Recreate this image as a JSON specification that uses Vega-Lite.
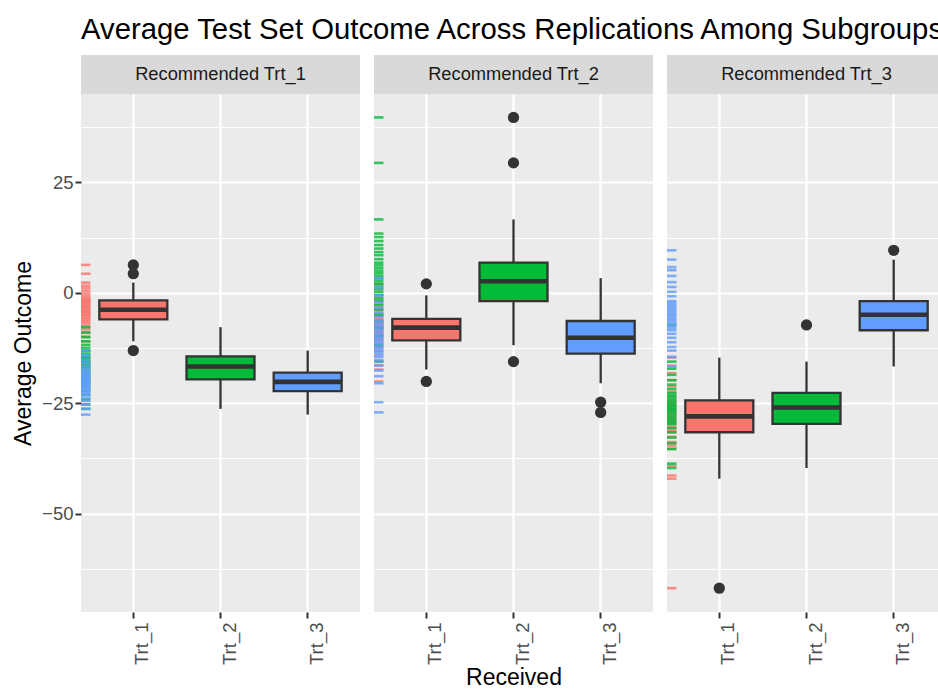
{
  "$schema": "https://vega.github.io/schema/vega-lite/v6.json",
  "background": "white",
  "padding": {"left": 12, "top": 15, "right": 0, "bottom": 0},
  "title": {"text": "Average Test Set Outcome Across Replications Among Subgroups", "anchor": "start", "frame": "group", "fontSize": 29.3, "fontWeight": "normal", "color": "#000000", "offset": 10},
  "config": {"font": "Liberation Sans", "view": {"stroke": null}},
  "spacing": 12,
  "datasets": {
    "strips": [
      {"p": "Trt_1", "label": "Recommended Trt_1"},
      {"p": "Trt_2", "label": "Recommended Trt_2"},
      {"p": "Trt_3", "label": "Recommended Trt_3"}
    ],
    "boxes": [
      {"p": "Trt_1", "r": "Trt_1", "lower": -11.0, "q1": -6.05, "median": -3.85, "q3": -1.75, "upper": 2.3},
      {"p": "Trt_1", "r": "Trt_2", "lower": -26.3, "q1": -19.6, "median": -16.7, "q3": -14.4, "upper": -7.8},
      {"p": "Trt_1", "r": "Trt_3", "lower": -27.6, "q1": -22.3, "median": -20.2, "q3": -18.1, "upper": -13.1},
      {"p": "Trt_2", "r": "Trt_1", "lower": -17.4, "q1": -10.8, "median": -7.9, "q3": -5.9, "upper": -0.6},
      {"p": "Trt_2", "r": "Trt_2", "lower": -11.9, "q1": -1.9, "median": 2.6, "q3": 6.8, "upper": 16.6},
      {"p": "Trt_2", "r": "Trt_3", "lower": -20.5, "q1": -13.8, "median": -10.2, "q3": -6.4, "upper": 3.3},
      {"p": "Trt_3", "r": "Trt_1", "lower": -42.1, "q1": -31.6, "median": -28.0, "q3": -24.4, "upper": -14.7},
      {"p": "Trt_3", "r": "Trt_2", "lower": -39.7, "q1": -29.7, "median": -26.0, "q3": -22.7, "upper": -15.6},
      {"p": "Trt_3", "r": "Trt_3", "lower": -16.7, "q1": -8.5, "median": -5.0, "q3": -1.9, "upper": 7.5}
    ],
    "outliers": [
      {"p": "Trt_1", "r": "Trt_1", "v": 6.3},
      {"p": "Trt_1", "r": "Trt_1", "v": 4.3},
      {"p": "Trt_1", "r": "Trt_1", "v": -13.1},
      {"p": "Trt_2", "r": "Trt_1", "v": 2.0},
      {"p": "Trt_2", "r": "Trt_1", "v": -20.1},
      {"p": "Trt_2", "r": "Trt_2", "v": 39.7},
      {"p": "Trt_2", "r": "Trt_2", "v": 29.4},
      {"p": "Trt_2", "r": "Trt_2", "v": -15.6},
      {"p": "Trt_2", "r": "Trt_3", "v": -24.8},
      {"p": "Trt_2", "r": "Trt_3", "v": -27.1},
      {"p": "Trt_3", "r": "Trt_1", "v": -66.9},
      {"p": "Trt_3", "r": "Trt_2", "v": -7.3},
      {"p": "Trt_3", "r": "Trt_3", "v": 9.6}
    ],
    "rug": [
      {"p":"Trt_1","r":"Trt_1","v":6.3},{"p":"Trt_1","r":"Trt_1","v":4.3},{"p":"Trt_1","r":"Trt_1","v":2.3},{"p":"Trt_1","r":"Trt_1","v":1.6},{"p":"Trt_1","r":"Trt_1","v":1.0},{"p":"Trt_1","r":"Trt_1","v":0.4},{"p":"Trt_1","r":"Trt_1","v":-0.2},{"p":"Trt_1","r":"Trt_1","v":-0.7},{"p":"Trt_1","r":"Trt_1","v":-1.2},{"p":"Trt_1","r":"Trt_1","v":-1.5},{"p":"Trt_1","r":"Trt_1","v":-1.75},{"p":"Trt_1","r":"Trt_1","v":-2.0},{"p":"Trt_1","r":"Trt_1","v":-2.3},{"p":"Trt_1","r":"Trt_1","v":-2.6},{"p":"Trt_1","r":"Trt_1","v":-2.9},{"p":"Trt_1","r":"Trt_1","v":-3.2},{"p":"Trt_1","r":"Trt_1","v":-3.5},{"p":"Trt_1","r":"Trt_1","v":-3.85},{"p":"Trt_1","r":"Trt_1","v":-4.1},{"p":"Trt_1","r":"Trt_1","v":-4.4},{"p":"Trt_1","r":"Trt_1","v":-4.7},{"p":"Trt_1","r":"Trt_1","v":-5.0},{"p":"Trt_1","r":"Trt_1","v":-5.3},{"p":"Trt_1","r":"Trt_1","v":-5.7},{"p":"Trt_1","r":"Trt_1","v":-6.05},{"p":"Trt_1","r":"Trt_1","v":-6.5},{"p":"Trt_1","r":"Trt_1","v":-7.0},{"p":"Trt_1","r":"Trt_1","v":-7.6},{"p":"Trt_1","r":"Trt_1","v":-8.3},{"p":"Trt_1","r":"Trt_1","v":-9.1},{"p":"Trt_1","r":"Trt_1","v":-9.9},{"p":"Trt_1","r":"Trt_1","v":-11.0},{"p":"Trt_1","r":"Trt_1","v":-13.1},
      {"p":"Trt_1","r":"Trt_2","v":-7.8},{"p":"Trt_1","r":"Trt_2","v":-9.0},{"p":"Trt_1","r":"Trt_2","v":-10.1},{"p":"Trt_1","r":"Trt_2","v":-11.0},{"p":"Trt_1","r":"Trt_2","v":-11.8},{"p":"Trt_1","r":"Trt_2","v":-12.5},{"p":"Trt_1","r":"Trt_2","v":-13.2},{"p":"Trt_1","r":"Trt_2","v":-13.8},{"p":"Trt_1","r":"Trt_2","v":-14.4},{"p":"Trt_1","r":"Trt_2","v":-14.8},{"p":"Trt_1","r":"Trt_2","v":-15.2},{"p":"Trt_1","r":"Trt_2","v":-15.6},{"p":"Trt_1","r":"Trt_2","v":-16.0},{"p":"Trt_1","r":"Trt_2","v":-16.4},{"p":"Trt_1","r":"Trt_2","v":-16.7},{"p":"Trt_1","r":"Trt_2","v":-17.1},{"p":"Trt_1","r":"Trt_2","v":-17.5},{"p":"Trt_1","r":"Trt_2","v":-17.9},{"p":"Trt_1","r":"Trt_2","v":-18.4},{"p":"Trt_1","r":"Trt_2","v":-18.9},{"p":"Trt_1","r":"Trt_2","v":-19.3},{"p":"Trt_1","r":"Trt_2","v":-19.6},{"p":"Trt_1","r":"Trt_2","v":-20.1},{"p":"Trt_1","r":"Trt_2","v":-20.7},{"p":"Trt_1","r":"Trt_2","v":-21.4},{"p":"Trt_1","r":"Trt_2","v":-22.2},{"p":"Trt_1","r":"Trt_2","v":-23.1},{"p":"Trt_1","r":"Trt_2","v":-24.2},{"p":"Trt_1","r":"Trt_2","v":-25.3},{"p":"Trt_1","r":"Trt_2","v":-26.3},
      {"p":"Trt_1","r":"Trt_3","v":-13.1},{"p":"Trt_1","r":"Trt_3","v":-14.2},{"p":"Trt_1","r":"Trt_3","v":-15.2},{"p":"Trt_1","r":"Trt_3","v":-16.0},{"p":"Trt_1","r":"Trt_3","v":-16.7},{"p":"Trt_1","r":"Trt_3","v":-17.3},{"p":"Trt_1","r":"Trt_3","v":-17.8},{"p":"Trt_1","r":"Trt_3","v":-18.1},{"p":"Trt_1","r":"Trt_3","v":-18.5},{"p":"Trt_1","r":"Trt_3","v":-18.9},{"p":"Trt_1","r":"Trt_3","v":-19.2},{"p":"Trt_1","r":"Trt_3","v":-19.5},{"p":"Trt_1","r":"Trt_3","v":-19.9},{"p":"Trt_1","r":"Trt_3","v":-20.2},{"p":"Trt_1","r":"Trt_3","v":-20.5},{"p":"Trt_1","r":"Trt_3","v":-20.8},{"p":"Trt_1","r":"Trt_3","v":-21.1},{"p":"Trt_1","r":"Trt_3","v":-21.5},{"p":"Trt_1","r":"Trt_3","v":-21.9},{"p":"Trt_1","r":"Trt_3","v":-22.3},{"p":"Trt_1","r":"Trt_3","v":-22.7},{"p":"Trt_1","r":"Trt_3","v":-23.2},{"p":"Trt_1","r":"Trt_3","v":-23.8},{"p":"Trt_1","r":"Trt_3","v":-24.5},{"p":"Trt_1","r":"Trt_3","v":-25.3},{"p":"Trt_1","r":"Trt_3","v":-26.3},{"p":"Trt_1","r":"Trt_3","v":-27.6},
      {"p":"Trt_2","r":"Trt_1","v":2.0},{"p":"Trt_2","r":"Trt_1","v":-0.6},{"p":"Trt_2","r":"Trt_1","v":-1.6},{"p":"Trt_2","r":"Trt_1","v":-2.5},{"p":"Trt_2","r":"Trt_1","v":-3.3},{"p":"Trt_2","r":"Trt_1","v":-4.0},{"p":"Trt_2","r":"Trt_1","v":-4.7},{"p":"Trt_2","r":"Trt_1","v":-5.3},{"p":"Trt_2","r":"Trt_1","v":-5.9},{"p":"Trt_2","r":"Trt_1","v":-6.2},{"p":"Trt_2","r":"Trt_1","v":-6.5},{"p":"Trt_2","r":"Trt_1","v":-6.8},{"p":"Trt_2","r":"Trt_1","v":-7.1},{"p":"Trt_2","r":"Trt_1","v":-7.4},{"p":"Trt_2","r":"Trt_1","v":-7.7},{"p":"Trt_2","r":"Trt_1","v":-7.9},{"p":"Trt_2","r":"Trt_1","v":-8.3},{"p":"Trt_2","r":"Trt_1","v":-8.7},{"p":"Trt_2","r":"Trt_1","v":-9.1},{"p":"Trt_2","r":"Trt_1","v":-9.5},{"p":"Trt_2","r":"Trt_1","v":-9.9},{"p":"Trt_2","r":"Trt_1","v":-10.4},{"p":"Trt_2","r":"Trt_1","v":-10.8},{"p":"Trt_2","r":"Trt_1","v":-11.5},{"p":"Trt_2","r":"Trt_1","v":-12.3},{"p":"Trt_2","r":"Trt_1","v":-13.2},{"p":"Trt_2","r":"Trt_1","v":-14.2},{"p":"Trt_2","r":"Trt_1","v":-15.3},{"p":"Trt_2","r":"Trt_1","v":-16.4},{"p":"Trt_2","r":"Trt_1","v":-17.4},{"p":"Trt_2","r":"Trt_1","v":-20.1},
      {"p":"Trt_2","r":"Trt_2","v":39.7},{"p":"Trt_2","r":"Trt_2","v":29.4},{"p":"Trt_2","r":"Trt_2","v":16.6},{"p":"Trt_2","r":"Trt_2","v":13.4},{"p":"Trt_2","r":"Trt_2","v":12.6},{"p":"Trt_2","r":"Trt_2","v":11.7},{"p":"Trt_2","r":"Trt_2","v":10.8},{"p":"Trt_2","r":"Trt_2","v":10.0},{"p":"Trt_2","r":"Trt_2","v":9.2},{"p":"Trt_2","r":"Trt_2","v":8.5},{"p":"Trt_2","r":"Trt_2","v":7.6},{"p":"Trt_2","r":"Trt_2","v":6.8},{"p":"Trt_2","r":"Trt_2","v":6.2},{"p":"Trt_2","r":"Trt_2","v":5.6},{"p":"Trt_2","r":"Trt_2","v":5.0},{"p":"Trt_2","r":"Trt_2","v":4.4},{"p":"Trt_2","r":"Trt_2","v":3.8},{"p":"Trt_2","r":"Trt_2","v":3.2},{"p":"Trt_2","r":"Trt_2","v":2.6},{"p":"Trt_2","r":"Trt_2","v":2.0},{"p":"Trt_2","r":"Trt_2","v":1.4},{"p":"Trt_2","r":"Trt_2","v":0.8},{"p":"Trt_2","r":"Trt_2","v":0.2},{"p":"Trt_2","r":"Trt_2","v":-0.5},{"p":"Trt_2","r":"Trt_2","v":-1.2},{"p":"Trt_2","r":"Trt_2","v":-1.9},{"p":"Trt_2","r":"Trt_2","v":-2.8},{"p":"Trt_2","r":"Trt_2","v":-3.8},{"p":"Trt_2","r":"Trt_2","v":-5.0},{"p":"Trt_2","r":"Trt_2","v":-6.4},{"p":"Trt_2","r":"Trt_2","v":-8.0},{"p":"Trt_2","r":"Trt_2","v":-9.8},{"p":"Trt_2","r":"Trt_2","v":-11.9},{"p":"Trt_2","r":"Trt_2","v":-15.6},
      {"p":"Trt_2","r":"Trt_3","v":3.3},{"p":"Trt_2","r":"Trt_3","v":1.2},{"p":"Trt_2","r":"Trt_3","v":-0.6},{"p":"Trt_2","r":"Trt_3","v":-2.1},{"p":"Trt_2","r":"Trt_3","v":-3.4},{"p":"Trt_2","r":"Trt_3","v":-4.5},{"p":"Trt_2","r":"Trt_3","v":-5.5},{"p":"Trt_2","r":"Trt_3","v":-6.4},{"p":"Trt_2","r":"Trt_3","v":-7.0},{"p":"Trt_2","r":"Trt_3","v":-7.5},{"p":"Trt_2","r":"Trt_3","v":-8.1},{"p":"Trt_2","r":"Trt_3","v":-8.6},{"p":"Trt_2","r":"Trt_3","v":-9.2},{"p":"Trt_2","r":"Trt_3","v":-9.7},{"p":"Trt_2","r":"Trt_3","v":-10.2},{"p":"Trt_2","r":"Trt_3","v":-10.7},{"p":"Trt_2","r":"Trt_3","v":-11.2},{"p":"Trt_2","r":"Trt_3","v":-11.7},{"p":"Trt_2","r":"Trt_3","v":-12.3},{"p":"Trt_2","r":"Trt_3","v":-12.8},{"p":"Trt_2","r":"Trt_3","v":-13.3},{"p":"Trt_2","r":"Trt_3","v":-13.8},{"p":"Trt_2","r":"Trt_3","v":-14.6},{"p":"Trt_2","r":"Trt_3","v":-15.5},{"p":"Trt_2","r":"Trt_3","v":-16.5},{"p":"Trt_2","r":"Trt_3","v":-17.6},{"p":"Trt_2","r":"Trt_3","v":-18.9},{"p":"Trt_2","r":"Trt_3","v":-20.5},{"p":"Trt_2","r":"Trt_3","v":-24.8},{"p":"Trt_2","r":"Trt_3","v":-27.1},
      {"p":"Trt_3","r":"Trt_1","v":-14.7},{"p":"Trt_3","r":"Trt_1","v":-16.5},{"p":"Trt_3","r":"Trt_1","v":-18.2},{"p":"Trt_3","r":"Trt_1","v":-19.8},{"p":"Trt_3","r":"Trt_1","v":-21.2},{"p":"Trt_3","r":"Trt_1","v":-22.4},{"p":"Trt_3","r":"Trt_1","v":-23.5},{"p":"Trt_3","r":"Trt_1","v":-24.4},{"p":"Trt_3","r":"Trt_1","v":-25.0},{"p":"Trt_3","r":"Trt_1","v":-25.6},{"p":"Trt_3","r":"Trt_1","v":-26.1},{"p":"Trt_3","r":"Trt_1","v":-26.6},{"p":"Trt_3","r":"Trt_1","v":-27.1},{"p":"Trt_3","r":"Trt_1","v":-27.6},{"p":"Trt_3","r":"Trt_1","v":-28.0},{"p":"Trt_3","r":"Trt_1","v":-28.5},{"p":"Trt_3","r":"Trt_1","v":-29.0},{"p":"Trt_3","r":"Trt_1","v":-29.5},{"p":"Trt_3","r":"Trt_1","v":-30.0},{"p":"Trt_3","r":"Trt_1","v":-30.6},{"p":"Trt_3","r":"Trt_1","v":-31.1},{"p":"Trt_3","r":"Trt_1","v":-31.6},{"p":"Trt_3","r":"Trt_1","v":-32.6},{"p":"Trt_3","r":"Trt_1","v":-33.8},{"p":"Trt_3","r":"Trt_1","v":-34.6},{"p":"Trt_3","r":"Trt_1","v":-35.3},{"p":"Trt_3","r":"Trt_1","v":-39.2},{"p":"Trt_3","r":"Trt_1","v":-41.4},{"p":"Trt_3","r":"Trt_1","v":-42.1},{"p":"Trt_3","r":"Trt_1","v":-66.9},
      {"p":"Trt_3","r":"Trt_2","v":-7.3},{"p":"Trt_3","r":"Trt_2","v":-15.6},{"p":"Trt_3","r":"Trt_2","v":-17.2},{"p":"Trt_3","r":"Trt_2","v":-18.6},{"p":"Trt_3","r":"Trt_2","v":-19.8},{"p":"Trt_3","r":"Trt_2","v":-20.8},{"p":"Trt_3","r":"Trt_2","v":-21.8},{"p":"Trt_3","r":"Trt_2","v":-22.7},{"p":"Trt_3","r":"Trt_2","v":-23.2},{"p":"Trt_3","r":"Trt_2","v":-23.7},{"p":"Trt_3","r":"Trt_2","v":-24.2},{"p":"Trt_3","r":"Trt_2","v":-24.7},{"p":"Trt_3","r":"Trt_2","v":-25.2},{"p":"Trt_3","r":"Trt_2","v":-25.6},{"p":"Trt_3","r":"Trt_2","v":-26.0},{"p":"Trt_3","r":"Trt_2","v":-26.4},{"p":"Trt_3","r":"Trt_2","v":-26.8},{"p":"Trt_3","r":"Trt_2","v":-27.3},{"p":"Trt_3","r":"Trt_2","v":-27.8},{"p":"Trt_3","r":"Trt_2","v":-28.3},{"p":"Trt_3","r":"Trt_2","v":-28.8},{"p":"Trt_3","r":"Trt_2","v":-29.3},{"p":"Trt_3","r":"Trt_2","v":-29.7},{"p":"Trt_3","r":"Trt_2","v":-30.6},{"p":"Trt_3","r":"Trt_2","v":-31.6},{"p":"Trt_3","r":"Trt_2","v":-32.8},{"p":"Trt_3","r":"Trt_2","v":-34.1},{"p":"Trt_3","r":"Trt_2","v":-35.4},{"p":"Trt_3","r":"Trt_2","v":-38.7},{"p":"Trt_3","r":"Trt_2","v":-39.7},
      {"p":"Trt_3","r":"Trt_3","v":9.6},{"p":"Trt_3","r":"Trt_3","v":7.5},{"p":"Trt_3","r":"Trt_3","v":5.8},{"p":"Trt_3","r":"Trt_3","v":5.1},{"p":"Trt_3","r":"Trt_3","v":3.8},{"p":"Trt_3","r":"Trt_3","v":2.4},{"p":"Trt_3","r":"Trt_3","v":1.3},{"p":"Trt_3","r":"Trt_3","v":0.2},{"p":"Trt_3","r":"Trt_3","v":-0.8},{"p":"Trt_3","r":"Trt_3","v":-1.9},{"p":"Trt_3","r":"Trt_3","v":-2.3},{"p":"Trt_3","r":"Trt_3","v":-2.8},{"p":"Trt_3","r":"Trt_3","v":-3.2},{"p":"Trt_3","r":"Trt_3","v":-3.7},{"p":"Trt_3","r":"Trt_3","v":-4.1},{"p":"Trt_3","r":"Trt_3","v":-4.6},{"p":"Trt_3","r":"Trt_3","v":-5.0},{"p":"Trt_3","r":"Trt_3","v":-5.4},{"p":"Trt_3","r":"Trt_3","v":-5.9},{"p":"Trt_3","r":"Trt_3","v":-6.4},{"p":"Trt_3","r":"Trt_3","v":-6.9},{"p":"Trt_3","r":"Trt_3","v":-7.5},{"p":"Trt_3","r":"Trt_3","v":-8.0},{"p":"Trt_3","r":"Trt_3","v":-8.5},{"p":"Trt_3","r":"Trt_3","v":-9.3},{"p":"Trt_3","r":"Trt_3","v":-10.2},{"p":"Trt_3","r":"Trt_3","v":-11.2},{"p":"Trt_3","r":"Trt_3","v":-12.3},{"p":"Trt_3","r":"Trt_3","v":-13.1},{"p":"Trt_3","r":"Trt_3","v":-14.5},{"p":"Trt_3","r":"Trt_3","v":-16.7}
    ]
  },
  "hconcat": [
    {
      "spacing": 0,
      "vconcat": [
        {
          "width": 279, "height": 39,
          "view": {"fill": "#D9D9D9", "stroke": null},
          "data": {"name": "strips"},
          "transform": [{"filter": "datum.p === 'Trt_1'"}],
          "mark": {"type": "text", "fontSize": 18.3, "color": "#1A1A1A", "baseline": "middle", "align": "center"},
          "encoding": {"text": {"field": "label", "type": "nominal"}}
        },
        {
          "width": 279, "height": 518,
          "view": {"fill": "#EBEBEB", "stroke": null},
          "resolve": {"scale": {"x": "independent"}, "axis": {"x": "independent", "y": "independent"}},
          "layer": [
            {
              "data": {"name": "rug"},
              "transform": [{"filter": "datum.p === 'Trt_1'"}],
              "mark": {"type": "rule", "strokeWidth": 2.6, "opacity": 0.8},
              "encoding": {
                "x": {"datum": 0, "type": "quantitative", "scale": {"domain": [0, 1]}, "axis": null},
                "x2": {"datum": 0.034},
                "y": {"field": "v", "type": "quantitative", "scale": {"domain": [-72.3, 45], "nice": false, "zero": false},
                  "axis": {"orient": "right", "values": [-62.5, -37.5, -12.5, 12.5, 37.5], "grid": true, "gridColor": "#FFFFFF", "gridWidth": 1.1, "labels": false, "ticks": false, "domain": false, "title": null, "minExtent": 0, "maxExtent": 0}},
                "color": {"field": "r", "type": "nominal", "scale": {"domain": ["Trt_1", "Trt_2", "Trt_3"], "range": ["#F8766D", "#00BA38", "#619CFF"]}, "legend": null}
              }
            },
            {
              "resolve": {"axis": {"x": "independent", "y": "independent"}},
              "layer": [
                {
                  "data": {"name": "boxes"},
                  "transform": [{"filter": "datum.p === 'Trt_1'"}],
                  "mark": {"type": "rule", "color": "#333333", "strokeWidth": 2.3},
                  "encoding": {
                    "x": {"field": "r", "type": "nominal", "scale": {"domain": ["Trt_1", "Trt_2", "Trt_3"], "paddingInner": 0.22, "paddingOuter": 0.21},
                      "axis": {"title": null, "bandPosition": 0.5, "grid": true, "gridColor": "#FFFFFF", "gridWidth": 2.2, "domain": false, "tickColor": "#333333", "tickSize": 6, "tickWidth": 2, "labelAngle": 270, "labelAlign": "right", "labelBaseline": "top", "labelFontSize": 18.5, "labelColor": "#4D4D4D", "labelPadding": 4}},
                    "y": {"field": "lower", "type": "quantitative", "scale": {"domain": [-72.3, 45], "nice": false, "zero": false},
                      "axis": {"title": "Average Outcome", "values": [-50, -25, 0, 25], "grid": true, "gridColor": "#FFFFFF", "gridWidth": 2.2, "domain": false, "tickColor": "#333333", "tickSize": 6, "tickWidth": 2, "labelFontSize": 18.5, "labelColor": "#4D4D4D", "labelPadding": 2, "titleFontSize": 23, "titleFontWeight": "normal", "titleColor": "#000000", "titlePadding": 6}},
                    "y2": {"field": "upper"}
                  }
                },
                {
                  "data": {"name": "boxes"},
                  "transform": [{"filter": "datum.p === 'Trt_1'"}],
                  "mark": {"type": "bar", "stroke": "#333333", "strokeWidth": 2.3},
                  "encoding": {
                    "x": {"field": "r", "type": "nominal", "scale": {"domain": ["Trt_1", "Trt_2", "Trt_3"], "paddingInner": 0.22, "paddingOuter": 0.21}, "axis": null},
                    "y": {"field": "q1", "type": "quantitative", "scale": {"domain": [-72.3, 45], "nice": false, "zero": false}, "axis": null},
                    "y2": {"field": "q3"},
                    "color": {"field": "r", "type": "nominal", "scale": {"domain": ["Trt_1", "Trt_2", "Trt_3"], "range": ["#F8766D", "#00BA38", "#619CFF"]}, "legend": null}
                  }
                },
                {
                  "data": {"name": "boxes"},
                  "transform": [{"filter": "datum.p === 'Trt_1'"}],
                  "mark": {"type": "tick", "color": "#333333", "thickness": 4.6, "size": 68, "opacity": 1},
                  "encoding": {
                    "x": {"field": "r", "type": "nominal", "scale": {"domain": ["Trt_1", "Trt_2", "Trt_3"], "paddingInner": 0.22, "paddingOuter": 0.21}, "axis": null},
                    "y": {"field": "median", "type": "quantitative", "scale": {"domain": [-72.3, 45], "nice": false, "zero": false}, "axis": null}
                  }
                },
                {
                  "data": {"name": "outliers"},
                  "transform": [{"filter": "datum.p === 'Trt_1'"}],
                  "mark": {"type": "point", "filled": true, "color": "#333333", "size": 127, "opacity": 1},
                  "encoding": {
                    "x": {"field": "r", "type": "nominal", "scale": {"domain": ["Trt_1", "Trt_2", "Trt_3"], "paddingInner": 0.22, "paddingOuter": 0.21}, "axis": null},
                    "y": {"field": "v", "type": "quantitative", "scale": {"domain": [-72.3, 45], "nice": false, "zero": false}, "axis": null}
                  }
                }
              ]
            }
          ]
        }
      ]
    },
    {
      "spacing": 0,
      "vconcat": [
        {
          "width": 279, "height": 39,
          "view": {"fill": "#D9D9D9", "stroke": null},
          "data": {"name": "strips"},
          "transform": [{"filter": "datum.p === 'Trt_2'"}],
          "mark": {"type": "text", "fontSize": 18.3, "color": "#1A1A1A", "baseline": "middle", "align": "center"},
          "encoding": {"text": {"field": "label", "type": "nominal"}}
        },
        {
          "width": 279, "height": 518,
          "view": {"fill": "#EBEBEB", "stroke": null},
          "resolve": {"scale": {"x": "independent"}, "axis": {"x": "independent", "y": "independent"}},
          "layer": [
            {
              "data": {"name": "rug"},
              "transform": [{"filter": "datum.p === 'Trt_2'"}],
              "mark": {"type": "rule", "strokeWidth": 2.6, "opacity": 0.8},
              "encoding": {
                "x": {"datum": 0, "type": "quantitative", "scale": {"domain": [0, 1]}, "axis": null},
                "x2": {"datum": 0.034},
                "y": {"field": "v", "type": "quantitative", "scale": {"domain": [-72.3, 45], "nice": false, "zero": false},
                  "axis": {"orient": "right", "values": [-62.5, -37.5, -12.5, 12.5, 37.5], "grid": true, "gridColor": "#FFFFFF", "gridWidth": 1.1, "labels": false, "ticks": false, "domain": false, "title": null, "minExtent": 0, "maxExtent": 0}},
                "color": {"field": "r", "type": "nominal", "scale": {"domain": ["Trt_1", "Trt_2", "Trt_3"], "range": ["#F8766D", "#00BA38", "#619CFF"]}, "legend": null}
              }
            },
            {
              "resolve": {"axis": {"x": "independent", "y": "independent"}},
              "layer": [
                {
                  "data": {"name": "boxes"},
                  "transform": [{"filter": "datum.p === 'Trt_2'"}],
                  "mark": {"type": "rule", "color": "#333333", "strokeWidth": 2.3},
                  "encoding": {
                    "x": {"field": "r", "type": "nominal", "scale": {"domain": ["Trt_1", "Trt_2", "Trt_3"], "paddingInner": 0.22, "paddingOuter": 0.21},
                      "axis": {"title": "Received", "titleFontSize": 23, "titleFontWeight": "normal", "titleColor": "#000000", "titlePadding": 2, "bandPosition": 0.5, "grid": true, "gridColor": "#FFFFFF", "gridWidth": 2.2, "domain": false, "tickColor": "#333333", "tickSize": 6, "tickWidth": 2, "labelAngle": 270, "labelAlign": "right", "labelBaseline": "top", "labelFontSize": 18.5, "labelColor": "#4D4D4D", "labelPadding": 4}},
                    "y": {"field": "lower", "type": "quantitative", "scale": {"domain": [-72.3, 45], "nice": false, "zero": false},
                      "axis": {"title": null, "values": [-50, -25, 0, 25], "grid": true, "gridColor": "#FFFFFF", "gridWidth": 2.2, "domain": false, "ticks": false, "labels": false, "minExtent": 0, "maxExtent": 0}},
                    "y2": {"field": "upper"}
                  }
                },
                {
                  "data": {"name": "boxes"},
                  "transform": [{"filter": "datum.p === 'Trt_2'"}],
                  "mark": {"type": "bar", "stroke": "#333333", "strokeWidth": 2.3},
                  "encoding": {
                    "x": {"field": "r", "type": "nominal", "scale": {"domain": ["Trt_1", "Trt_2", "Trt_3"], "paddingInner": 0.22, "paddingOuter": 0.21}, "axis": null},
                    "y": {"field": "q1", "type": "quantitative", "scale": {"domain": [-72.3, 45], "nice": false, "zero": false}, "axis": null},
                    "y2": {"field": "q3"},
                    "color": {"field": "r", "type": "nominal", "scale": {"domain": ["Trt_1", "Trt_2", "Trt_3"], "range": ["#F8766D", "#00BA38", "#619CFF"]}, "legend": null}
                  }
                },
                {
                  "data": {"name": "boxes"},
                  "transform": [{"filter": "datum.p === 'Trt_2'"}],
                  "mark": {"type": "tick", "color": "#333333", "thickness": 4.6, "size": 68, "opacity": 1},
                  "encoding": {
                    "x": {"field": "r", "type": "nominal", "scale": {"domain": ["Trt_1", "Trt_2", "Trt_3"], "paddingInner": 0.22, "paddingOuter": 0.21}, "axis": null},
                    "y": {"field": "median", "type": "quantitative", "scale": {"domain": [-72.3, 45], "nice": false, "zero": false}, "axis": null}
                  }
                },
                {
                  "data": {"name": "outliers"},
                  "transform": [{"filter": "datum.p === 'Trt_2'"}],
                  "mark": {"type": "point", "filled": true, "color": "#333333", "size": 127, "opacity": 1},
                  "encoding": {
                    "x": {"field": "r", "type": "nominal", "scale": {"domain": ["Trt_1", "Trt_2", "Trt_3"], "paddingInner": 0.22, "paddingOuter": 0.21}, "axis": null},
                    "y": {"field": "v", "type": "quantitative", "scale": {"domain": [-72.3, 45], "nice": false, "zero": false}, "axis": null}
                  }
                }
              ]
            }
          ]
        }
      ]
    },
    {
      "spacing": 0,
      "vconcat": [
        {
          "width": 279, "height": 39,
          "view": {"fill": "#D9D9D9", "stroke": null},
          "data": {"name": "strips"},
          "transform": [{"filter": "datum.p === 'Trt_3'"}],
          "mark": {"type": "text", "fontSize": 18.3, "color": "#1A1A1A", "baseline": "middle", "align": "center"},
          "encoding": {"text": {"field": "label", "type": "nominal"}}
        },
        {
          "width": 279, "height": 518,
          "view": {"fill": "#EBEBEB", "stroke": null},
          "resolve": {"scale": {"x": "independent"}, "axis": {"x": "independent", "y": "independent"}},
          "layer": [
            {
              "data": {"name": "rug"},
              "transform": [{"filter": "datum.p === 'Trt_3'"}],
              "mark": {"type": "rule", "strokeWidth": 2.6, "opacity": 0.8},
              "encoding": {
                "x": {"datum": 0, "type": "quantitative", "scale": {"domain": [0, 1]}, "axis": null},
                "x2": {"datum": 0.034},
                "y": {"field": "v", "type": "quantitative", "scale": {"domain": [-72.3, 45], "nice": false, "zero": false},
                  "axis": {"orient": "right", "values": [-62.5, -37.5, -12.5, 12.5, 37.5], "grid": true, "gridColor": "#FFFFFF", "gridWidth": 1.1, "labels": false, "ticks": false, "domain": false, "title": null, "minExtent": 0, "maxExtent": 0}},
                "color": {"field": "r", "type": "nominal", "scale": {"domain": ["Trt_1", "Trt_2", "Trt_3"], "range": ["#F8766D", "#00BA38", "#619CFF"]}, "legend": null}
              }
            },
            {
              "resolve": {"axis": {"x": "independent", "y": "independent"}},
              "layer": [
                {
                  "data": {"name": "boxes"},
                  "transform": [{"filter": "datum.p === 'Trt_3'"}],
                  "mark": {"type": "rule", "color": "#333333", "strokeWidth": 2.3},
                  "encoding": {
                    "x": {"field": "r", "type": "nominal", "scale": {"domain": ["Trt_1", "Trt_2", "Trt_3"], "paddingInner": 0.22, "paddingOuter": 0.21},
                      "axis": {"title": null, "bandPosition": 0.5, "grid": true, "gridColor": "#FFFFFF", "gridWidth": 2.2, "domain": false, "tickColor": "#333333", "tickSize": 6, "tickWidth": 2, "labelAngle": 270, "labelAlign": "right", "labelBaseline": "top", "labelFontSize": 18.5, "labelColor": "#4D4D4D", "labelPadding": 4}},
                    "y": {"field": "lower", "type": "quantitative", "scale": {"domain": [-72.3, 45], "nice": false, "zero": false},
                      "axis": {"title": null, "values": [-50, -25, 0, 25], "grid": true, "gridColor": "#FFFFFF", "gridWidth": 2.2, "domain": false, "ticks": false, "labels": false, "minExtent": 0, "maxExtent": 0}},
                    "y2": {"field": "upper"}
                  }
                },
                {
                  "data": {"name": "boxes"},
                  "transform": [{"filter": "datum.p === 'Trt_3'"}],
                  "mark": {"type": "bar", "stroke": "#333333", "strokeWidth": 2.3},
                  "encoding": {
                    "x": {"field": "r", "type": "nominal", "scale": {"domain": ["Trt_1", "Trt_2", "Trt_3"], "paddingInner": 0.22, "paddingOuter": 0.21}, "axis": null},
                    "y": {"field": "q1", "type": "quantitative", "scale": {"domain": [-72.3, 45], "nice": false, "zero": false}, "axis": null},
                    "y2": {"field": "q3"},
                    "color": {"field": "r", "type": "nominal", "scale": {"domain": ["Trt_1", "Trt_2", "Trt_3"], "range": ["#F8766D", "#00BA38", "#619CFF"]}, "legend": null}
                  }
                },
                {
                  "data": {"name": "boxes"},
                  "transform": [{"filter": "datum.p === 'Trt_3'"}],
                  "mark": {"type": "tick", "color": "#333333", "thickness": 4.6, "size": 68, "opacity": 1},
                  "encoding": {
                    "x": {"field": "r", "type": "nominal", "scale": {"domain": ["Trt_1", "Trt_2", "Trt_3"], "paddingInner": 0.22, "paddingOuter": 0.21}, "axis": null},
                    "y": {"field": "median", "type": "quantitative", "scale": {"domain": [-72.3, 45], "nice": false, "zero": false}, "axis": null}
                  }
                },
                {
                  "data": {"name": "outliers"},
                  "transform": [{"filter": "datum.p === 'Trt_3'"}],
                  "mark": {"type": "point", "filled": true, "color": "#333333", "size": 127, "opacity": 1},
                  "encoding": {
                    "x": {"field": "r", "type": "nominal", "scale": {"domain": ["Trt_1", "Trt_2", "Trt_3"], "paddingInner": 0.22, "paddingOuter": 0.21}, "axis": null},
                    "y": {"field": "v", "type": "quantitative", "scale": {"domain": [-72.3, 45], "nice": false, "zero": false}, "axis": null}
                  }
                }
              ]
            }
          ]
        }
      ]
    }
  ]
}
